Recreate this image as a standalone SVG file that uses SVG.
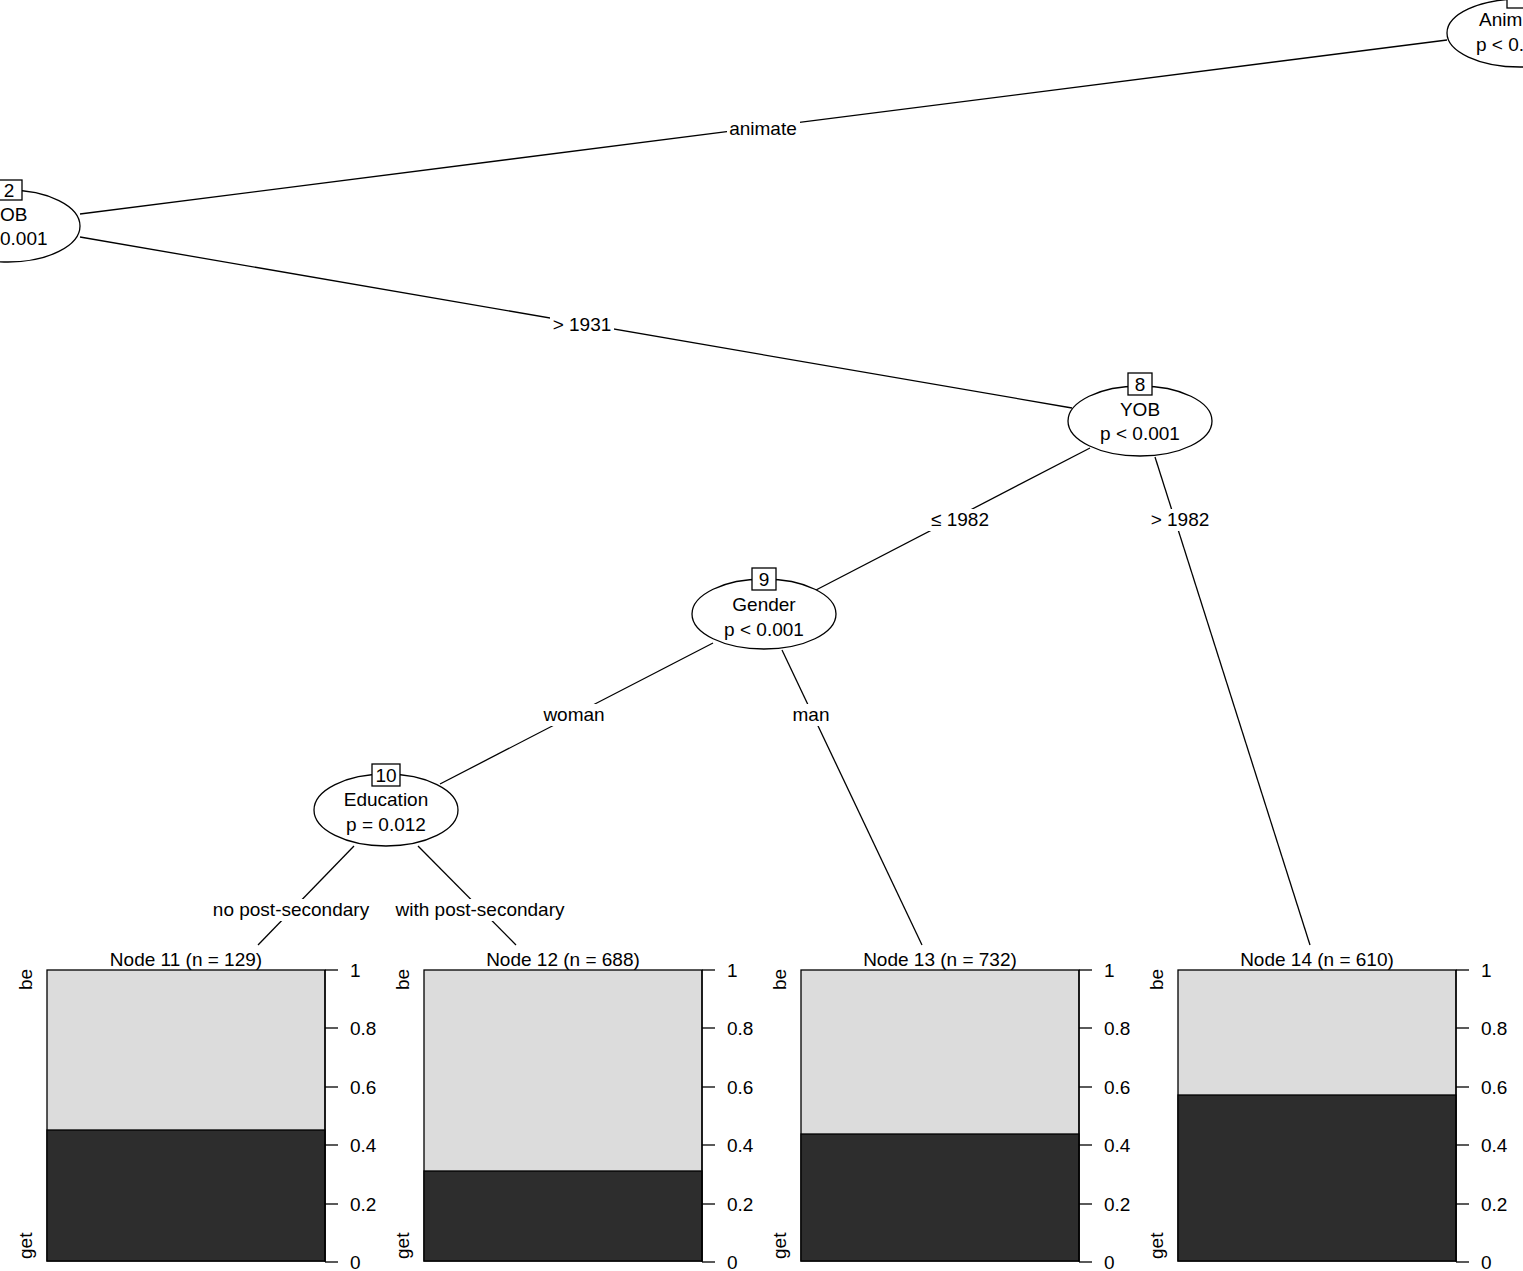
<svg xmlns="http://www.w3.org/2000/svg" width="1523" height="1271" viewBox="0 0 1523 1271">
<style>
text{font-family:"Liberation Sans",Arial,sans-serif;font-size:19px;fill:#000}
.c{text-anchor:middle}
.e{fill:#fff;stroke:#000;stroke-width:1.3}
.l{stroke:#000;stroke-width:1.3;fill:none}
.bg{fill:#fff}
.lt{fill:#dcdcdc;stroke:#000;stroke-width:1.3}
.dk{fill:#2d2d2d;stroke:#000;stroke-width:1.3}
</style>
<g id="connectors">
<line class="l" x1="80" y1="214" x2="1447" y2="40"/>
<line class="l" x1="80" y1="237" x2="1072" y2="408"/>
<line class="l" x1="1090" y1="448" x2="816" y2="590"/>
<line class="l" x1="1155" y1="457" x2="1310" y2="945"/>
<line class="l" x1="713" y1="643" x2="440" y2="784"/>
<line class="l" x1="782" y1="650" x2="922" y2="945"/>
<line class="l" x1="354" y1="846" x2="258" y2="945"/>
<line class="l" x1="418" y1="846" x2="516" y2="945"/>
<rect class="bg" x="727" y="118" width="73" height="22"/><text class="c" x="763" y="135">animate</text>
<rect class="bg" x="550" y="314" width="64" height="22"/><text class="c" x="582" y="331">&gt; 1931</text>
<rect class="bg" x="928" y="509" width="64" height="22"/><text class="c" x="960" y="526">≤ 1982</text>
<rect class="bg" x="1148" y="509" width="64" height="22"/><text class="c" x="1180" y="526">&gt; 1982</text>
<rect class="bg" x="540" y="704" width="68" height="22"/><text class="c" x="574" y="721">woman</text>
<rect class="bg" x="790" y="704" width="42" height="22"/><text class="c" x="811" y="721">man</text>
<rect class="bg" x="208" y="899" width="166" height="22"/><text class="c" x="291" y="916">no post-secondary</text>
<rect class="bg" x="390" y="899" width="180" height="22"/><text class="c" x="480" y="916">with post-secondary</text>
</g>
<g id="node1">
<ellipse class="e" cx="1520" cy="33" rx="73" ry="34"/>
<rect class="e" x="1507" y="-12" width="24" height="20"/>
<text x="1479" y="26">Anim</text><text x="1476" y="51">p &lt; 0.</text>
</g>
<g id="node2">
<ellipse class="e" cx="8" cy="226" rx="72" ry="36"/>
<rect class="e" x="-4" y="180" width="26" height="20"/>
<text class="c" x="9" y="197">2</text>
<text x="0" y="221">OB</text><text x="0" y="245">0.001</text>
</g>
<g id="node8">
<ellipse class="e" cx="1140" cy="421" rx="72" ry="35"/>
<rect class="e" x="1128" y="373" width="24" height="22"/>
<text class="c" x="1140" y="391">8</text>
<text class="c" x="1140" y="416">YOB</text><text class="c" x="1140" y="440">p &lt; 0.001</text>
</g>
<g id="node9">
<ellipse class="e" cx="764" cy="614" rx="72" ry="35"/>
<rect class="e" x="752" y="568" width="24" height="22"/>
<text class="c" x="764" y="586">9</text>
<text class="c" x="764" y="611">Gender</text><text class="c" x="764" y="636">p &lt; 0.001</text>
</g>
<g id="node10">
<ellipse class="e" cx="386" cy="810" rx="72" ry="36"/>
<rect class="e" x="372" y="764" width="28" height="22"/>
<text class="c" x="386" y="782">10</text>
<text class="c" x="386" y="806">Education</text><text class="c" x="386" y="831">p = 0.012</text>
</g>
<defs>
<g id="axis">
<line class="l" x1="0" y1="970" x2="0" y2="1262"/>
<line class="l" x1="0" y1="970" x2="13" y2="970"/>
<line class="l" x1="0" y1="1028" x2="13" y2="1028"/>
<line class="l" x1="0" y1="1087" x2="13" y2="1087"/>
<line class="l" x1="0" y1="1145" x2="13" y2="1145"/>
<line class="l" x1="0" y1="1204" x2="13" y2="1204"/>
<line class="l" x1="0" y1="1262" x2="13" y2="1262"/>
<text x="25" y="977">1</text>
<text x="25" y="1035">0.8</text>
<text x="25" y="1094">0.6</text>
<text x="25" y="1152">0.4</text>
<text x="25" y="1211">0.2</text>
<text x="25" y="1269">0</text>
</g>
</defs>
<g id="node11">
<text class="c" x="186" y="966">Node 11 (n = 129)</text>
<rect class="lt" x="47" y="970" width="278" height="291"/>
<rect class="dk" x="47" y="1130" width="278" height="131"/>
<use href="#axis" x="325"/>
<text transform="translate(32,990) rotate(-90)">be</text>
<text transform="translate(32,1259) rotate(-90)">get</text>
</g>
<g id="node12">
<text class="c" x="563" y="966">Node 12 (n = 688)</text>
<rect class="lt" x="424" y="970" width="278" height="291"/>
<rect class="dk" x="424" y="1171" width="278" height="90"/>
<use href="#axis" x="702"/>
<text transform="translate(409,990) rotate(-90)">be</text>
<text transform="translate(409,1259) rotate(-90)">get</text>
</g>
<g id="node13">
<text class="c" x="940" y="966">Node 13 (n = 732)</text>
<rect class="lt" x="801" y="970" width="278" height="291"/>
<rect class="dk" x="801" y="1134" width="278" height="127"/>
<use href="#axis" x="1079"/>
<text transform="translate(786,990) rotate(-90)">be</text>
<text transform="translate(786,1259) rotate(-90)">get</text>
</g>
<g id="node14">
<text class="c" x="1317" y="966">Node 14 (n = 610)</text>
<rect class="lt" x="1178" y="970" width="278" height="291"/>
<rect class="dk" x="1178" y="1095" width="278" height="166"/>
<use href="#axis" x="1456"/>
<text transform="translate(1163,990) rotate(-90)">be</text>
<text transform="translate(1163,1259) rotate(-90)">get</text>
</g>
</svg>
